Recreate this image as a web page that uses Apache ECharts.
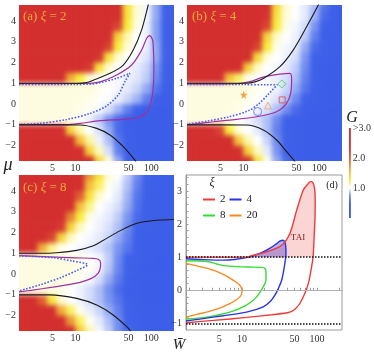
<!DOCTYPE html>
<html>
<head>
<meta charset="utf-8">
<script src="https://cdn.jsdelivr.net/npm/echarts@6/dist/echarts.min.js"></script>
<style>
  html, body { margin: 0; padding: 0; background: #fff; }
  #wrap { position: relative; width: 374px; height: 355px; }
  #heat, #main { position: absolute; left: 0; top: 0; width: 374px; height: 355px; }
  /* the G maps are drawn on their own layer, softened and cut to the three panels */
  #heat { filter: blur(2.5px); clip-path: path('M19 5H174V161H19Z M187 5H342V161H187Z M19 175H174V331H19Z'); }
</style>
</head>
<body>
<div id="wrap"><div id="heat"></div><div id="main"></div></div>
<script>
// ---- G maps: columns in W (log spaced), rows in mu ----
var wCols = [1.54, 2.05, 2.74, 3.65, 4.87, 6.49, 8.66, 11.5, 15.4, 20.5, 27.4, 36.5, 48.7, 64.9, 86.6, 115, 154, 205];
var muRows = [4.75, 4.25, 3.75, 3.25, 2.75, 2.25, 1.75, 1.25, 0.75, 0.25, -0.25, -0.75, -1.25, -1.75, -2.25, -2.75];

var gA = [
  [3,3,3,3,3,3,3,3,3,3,3,2.8,1.3,1.06,0.98,0.8,0.5,0.38],
  [3,3,3,3,3,3,3,3,3,3,3,2.7,1.3,1.05,0.98,0.8,0.5,0.38],
  [3,3,3,3,3,3,3,3,3,3,3,2.2,1.25,1.03,0.97,0.78,0.48,0.37],
  [3,3,3,3,3,3,3,3,3,3,2.7,1.4,1.1,1.0,0.97,0.78,0.48,0.36],
  [3,3,3,3,3,3,3,3,3,3,2.2,1.25,1.05,1.0,0.96,0.8,0.5,0.36],
  [3,3,3,3,3,3,3,3,3,2.4,1.3,1.06,1.0,0.98,0.94,0.8,0.5,0.36],
  [3,3,3,3,3,3,3,3,2.3,1.3,1.06,1.0,0.98,0.95,0.9,0.75,0.47,0.35],
  [3,3,3,3,3,2.6,1.6,1.25,1.06,1.0,1.0,0.98,0.97,0.94,0.88,0.7,0.45,0.35],
  [1.04,1.04,1.04,1.04,1.04,1.04,1.04,1.04,1.04,1.02,1.0,0.98,0.95,0.9,0.8,0.6,0.4,0.32],
  [1.04,1.04,1.04,1.04,1.04,1.04,1.04,1.04,1.03,1.01,0.99,0.96,0.9,0.82,0.65,0.45,0.35,0.3],
  [1.04,1.04,1.04,1.04,1.04,1.04,1.04,1.03,1.01,0.98,0.93,0.82,0.65,0.45,0.35,0.3,0.3,0.3],
  [1.04,1.04,1.04,1.04,1.04,1.04,1.03,1.0,0.96,0.88,0.75,0.55,0.4,0.32,0.3,0.3,0.3,0.3],
  [3,3,3,3,3,2.5,1.4,1.1,1.0,0.93,0.8,0.55,0.4,0.3,0.3,0.3,0.3,0.3],
  [3,3,3,3,3,3,2.7,1.5,1.12,0.97,0.85,0.6,0.42,0.3,0.3,0.3,0.3,0.3],
  [3,3,3,3,3,3,3,2.6,1.4,1.08,0.92,0.65,0.45,0.35,0.3,0.3,0.3,0.3],
  [3,3,3,3,3,3,3,3,2.6,1.35,1.05,0.8,0.5,0.38,0.3,0.3,0.3,0.3]
];
var gB = [
  [3,3,3,3,3,3,3,3,3,2.6,1.35,1.06,1.0,0.95,0.85,0.6,0.4,0.35],
  [3,3,3,3,3,3,3,3,3,2.4,1.3,1.05,1.0,0.95,0.82,0.55,0.4,0.35],
  [3,3,3,3,3,3,3,3,3,2.2,1.25,1.03,0.98,0.92,0.75,0.5,0.38,0.35],
  [3,3,3,3,3,3,3,3,2.7,1.4,1.07,1.0,0.97,0.88,0.65,0.45,0.35,0.33],
  [3,3,3,3,3,3,3,3,2.2,1.25,1.03,0.98,0.95,0.8,0.55,0.4,0.35,0.33],
  [3,3,3,3,3,3,3,2.6,1.35,1.05,1.0,0.97,0.92,0.75,0.5,0.38,0.33,0.32],
  [3,3,3,3,3,3,2.6,1.4,1.07,1.0,0.98,0.95,0.88,0.7,0.45,0.35,0.32,0.3],
  [3,3,3,3,2.6,1.5,1.2,1.03,1.0,0.98,0.96,0.92,0.85,0.65,0.45,0.35,0.32,0.3],
  [1.04,1.04,1.04,1.04,1.04,1.04,1.04,1.04,1.02,1.0,0.97,0.9,0.8,0.6,0.42,0.35,0.32,0.3],
  [1.04,1.04,1.04,1.04,1.04,1.04,1.04,1.03,1.0,0.98,0.93,0.85,0.7,0.5,0.38,0.33,0.3,0.3],
  [1.04,1.04,1.04,1.04,1.04,1.04,1.03,1.0,0.97,0.93,0.85,0.72,0.55,0.4,0.34,0.3,0.3,0.3],
  [1.04,1.04,1.04,1.04,1.04,1.02,1.0,0.97,0.92,0.85,0.7,0.5,0.38,0.33,0.3,0.3,0.3,0.3],
  [3,3,3,3,2.2,1.25,1.05,1.0,0.95,0.85,0.65,0.45,0.35,0.3,0.3,0.3,0.3,0.3],
  [3,3,3,3,3,2.6,1.45,1.1,1.0,0.9,0.7,0.5,0.38,0.3,0.3,0.3,0.3,0.3],
  [3,3,3,3,3,3,2.6,1.4,1.08,0.95,0.75,0.5,0.38,0.3,0.3,0.3,0.3,0.3],
  [3,3,3,3,3,3,3,2.4,1.3,1.03,0.8,0.55,0.4,0.3,0.3,0.3,0.3,0.3]
];
var gC = [
  [3,3,3,3,3,3,3,2.8,1.7,1.3,1.05,1.0,0.88,0.7,0.5,0.4,0.36,0.35],
  [3,3,3,3,3,3,3,2.5,1.5,1.2,1.02,0.97,0.85,0.65,0.45,0.38,0.35,0.35],
  [3,3,3,3,3,3,3,2.0,1.3,1.06,1.0,0.95,0.82,0.6,0.42,0.36,0.35,0.35],
  [3,3,3,3,3,3,2.7,1.5,1.15,1.0,0.97,0.92,0.8,0.58,0.42,0.35,0.35,0.35],
  [3,3,3,3,3,2.9,1.8,1.25,1.03,0.98,0.95,0.88,0.75,0.55,0.4,0.35,0.35,0.35],
  [3,3,3,3,3,2.3,1.4,1.08,1.0,0.97,0.93,0.85,0.7,0.5,0.38,0.35,0.35,0.35],
  [3,3,3,3,2.2,1.4,1.08,1.0,0.98,0.95,0.9,0.8,0.65,0.45,0.36,0.35,0.35,0.35],
  [3,3,2.8,1.6,1.15,1.02,1.0,0.98,0.96,0.92,0.86,0.75,0.6,0.42,0.35,0.33,0.33,0.33],
  [1.04,1.04,1.04,1.04,1.04,1.04,1.04,1.03,1.01,0.98,0.88,0.7,0.5,0.38,0.33,0.3,0.3,0.3],
  [1.04,1.04,1.04,1.04,1.04,1.04,1.04,1.03,1.01,0.97,0.86,0.68,0.48,0.36,0.32,0.3,0.3,0.3],
  [1.04,1.04,1.04,1.04,1.04,1.04,1.03,1.01,0.98,0.92,0.8,0.62,0.45,0.35,0.32,0.3,0.3,0.3],
  [1.04,1.04,1.04,1.04,1.04,1.03,1.0,0.97,0.92,0.85,0.72,0.55,0.42,0.34,0.3,0.3,0.3,0.3],
  [3,3,3,2.0,1.3,1.06,1.0,0.97,0.92,0.85,0.75,0.6,0.45,0.36,0.32,0.32,0.32,0.32],
  [3,3,3,3,2.8,1.6,1.2,1.02,0.96,0.9,0.8,0.65,0.48,0.38,0.33,0.33,0.33,0.33],
  [3,3,3,3,3,2.8,1.7,1.2,1.02,0.95,0.85,0.7,0.5,0.4,0.34,0.34,0.34,0.34],
  [3,3,3,3,3,3,2.5,1.45,1.1,0.98,0.88,0.72,0.52,0.4,0.35,0.35,0.35,0.35]
];

// colour scale, G = 0 .. 3 in steps of 0.25
var gColors = ['#3a5ce8', '#3a5ce8', '#3f61e9', '#7b95f0', '#ffffff', '#f9ee3e', '#f4c23c',
               '#ec8f38', '#e06034', '#d63d31', '#d32f2f', '#d32f2f', '#d32f2f'];

// ---- contour lines [W, mu] ----
var aBlackUp = [[1.8,1.0],[10.4,1.0],[14.1,1.04],[17.2,1.15],[28.6,1.48],[42.8,1.88],[57.9,2.6],[74.8,3.57],[91.4,4.77],[95,5]];
var aBlackLow = [[1.8,-1.0],[11.5,-1.01],[19.1,-1.17],[28.6,-1.49],[42.8,-2.05],[61,-2.7],[63,-2.8]];
var aPurple = [[1.8,0.99],[8,0.99],[13.4,0.99],[21.1,1.07],[35,1.4],[55.2,1.88],[74.8,2.6],[87,3.16],[95,3.3],[103,3.15],[106,2.92],[108.7,1.8],[104.4,0.51],[91.4,-0.29],[71,-0.61],[47.4,-0.72],[21.1,-0.8],[11.5,-0.93],[7.7,-0.99],[1.8,-0.99]];
var aBlueDot = [[1.8,0.95],[10,0.95],[15.6,0.96],[21.1,1.03],[35,1.24],[52.4,1.48],[45,1.08],[36.7,0.44],[25.8,-0.09],[15.6,-0.45],[7.7,-0.74],[3.4,-0.93],[1.8,-0.98]];

var bBlackUp = [[1.8,1.0],[11,1.0],[14.2,1.07],[18.3,1.23],[30.3,1.8],[45.4,2.6],[68.2,3.72],[97,4.76],[100,4.9]];
var bBlackLow = [[1.8,-1.0],[11,-1.01],[18.3,-1.25],[27.4,-1.73],[37.2,-2.29],[46.9,-2.72],[48,-2.8]];
var bPurple = [[1.8,0.98],[3.6,0.97],[8,0.98],[12.2,1.08],[18.3,1.3],[30.3,1.44],[41.1,1.48],[43.3,1.15],[42,0.51],[37.1,0.03],[27.4,-0.37],[15,-0.61],[6.6,-0.77],[4.0,-0.85],[2.2,-0.97],[1.8,-0.99]];
var bBlueDot = [[1.8,0.94],[10,0.94],[20,0.93],[28,0.93],[21.4,0.48],[15.8,0.0],[11.6,-0.32],[6.3,-0.62],[3.3,-0.82],[1.8,-0.97]];
var bStar = [[10.1,0.45]], bDiamond = [[32.2,0.97]], bSquare = [[32.5,0.2]], bTriangle = [[21.1,-0.07]], bCircle = [[15.4,-0.36]];

var cBlackUp = [[1.8,1.0],[3.4,1.0],[5.7,1.03],[10.4,1.14],[17.2,1.36],[25.8,1.72],[38.6,2.08],[55,2.35],[71,2.48],[130,2.6],[200,2.63]];
var cBlackLow = [[1.8,-1.0],[4.6,-1.0],[10.4,-1.17],[19.1,-1.49],[31.5,-1.97],[49.8,-2.6],[53.5,-2.75]];
var cPurple = [[1.8,0.89],[4.6,0.83],[10,0.78],[17,0.76],[20,0.71],[21.5,0.55],[21.4,0.35],[20,0.05],[16,-0.22],[10,-0.45],[5,-0.63],[2.6,-0.78],[1.8,-0.86]];
var cBlueDot = [[1.8,0.88],[5,0.79],[9.1,0.63],[14.5,0.45],[10.8,0.2],[6.5,-0.16],[3.4,-0.52],[2.2,-0.72],[1.8,-0.82]];

// ---- panel (d): boundaries for xi = 2, 4, 8, 20 ----
var dRed = [[1.8,-0.98],[4.2,-0.91],[11.5,-0.82],[25,-0.74],[40,-0.68],[46,-0.64],[52,-0.55],[59,-0.4],[68,-0.12],[76.6,0.2],[83,0.6],[88.5,1.0],[91.5,1.6],[94,2.2],[94.5,2.7],[93,3.05],[88,3.25],[82,3.28],[75,3.2],[65.7,3.03],[53.6,2.42],[43.6,1.72],[33.8,1.36],[21.3,1.16],[12.8,1.03],[11.5,1.0],[7,1.0],[1.8,1.0]];
var dBlue = [[1.8,-0.93],[2.75,-0.87],[5.6,-0.77],[11.5,-0.66],[19.2,-0.5],[24,-0.33],[27.5,-0.15],[30.5,0.05],[33.8,0.3],[36,0.6],[37.8,0.9],[38.3,1.0],[38.6,1.12],[38.2,1.35],[37,1.47],[35,1.51],[32,1.48],[29,1.41],[24,1.28],[19.2,1.16],[15,1.06],[12.5,1.0],[8,0.93],[5.6,0.91],[2.75,0.93],[1.8,0.95]];
var dGreen = [[1.8,0.89],[3.5,0.87],[4.5,0.8],[5.5,0.75],[7.7,0.72],[12,0.7],[18.3,0.69],[20.3,0.66],[20.9,0.55],[20.9,0.3],[19.2,0.1],[15.7,-0.2],[11.5,-0.45],[6.9,-0.66],[3.4,-0.81],[1.8,-0.87]];
var dOrange = [[1.8,0.81],[4.1,0.61],[6,0.45],[7.7,0.3],[9.3,0.16],[10.1,0.0],[9.4,-0.2],[6.9,-0.4],[4.1,-0.61],[2.5,-0.73],[1.8,-0.81]];

// ---- ticks ----
var xLabels = [5, 10, 50, 100];
var muLabels = [-2, -1, 0, 1, 2, 3, 4];
var dMuLabels = [-1, 0, 1, 2, 3];
var dTicksX = [2, 3, 4, 5, 6, 7, 8, 9, 10, 20, 30, 40, 50, 60, 70, 80, 90, 100, 200];
var dTicksY = [-1, -0.8, -0.6, -0.4, -0.2, 0, 0.2, 0.4, 0.6, 0.8, 1, 1.2, 1.4, 1.6, 1.8, 2, 2.2, 2.4, 2.6, 2.8, 3, 3.2, 3.4];
var cbLabels = [1, 2, 3];

var serif = '"Liberation Serif", "DejaVu Serif", serif';
var panelGrids = [
  { left: 19, top: 5, width: 155, height: 156 },
  { left: 187, top: 5, width: 155, height: 156 },
  { left: 19, top: 175, width: 155, height: 156 }
];

// ================= heat layer =================
function cells(g) {
  var out = [];
  g.forEach(function (row, r) {
    row.forEach(function (v, c) { out.push([wCols[c], muRows[r], v, c, r]); });
  });
  return out;
}
function wEdge(c, side) {
  var w = wCols[c], nb = wCols[c + side];
  if (nb === undefined) nb = w * w / wCols[c - side];
  return Math.sqrt(w * nb);
}
function muEdge(r, side) {
  var m = muRows[r], nb = muRows[r + side];
  if (nb === undefined) nb = 2 * m - muRows[r - side];
  return (m + nb) / 2;
}
function renderCell(params, api) {
  var c = api.value(3), r = api.value(4);
  var p0 = api.coord([wEdge(c, -1), muEdge(r, -1)]);
  var p1 = api.coord([wEdge(c, 1), muEdge(r, 1)]);
  return {
    type: 'rect',
    shape: { x: p0[0], y: p0[1], width: p1[0] - p0[0] + 0.6, height: p1[1] - p0[1] + 0.6 },
    style: { fill: api.visual('color') }
  };
}

var heat = echarts.init(document.getElementById('heat'));
heat.setOption({
  animation: false,
  grid: panelGrids,
  xAxis: [0, 1, 2].map(function (i) { return { type: 'log', gridIndex: i, min: 1.8, max: 200, show: false }; }),
  yAxis: [0, 1, 2].map(function (i) { return { type: 'value', gridIndex: i, min: -2.74, max: 4.77, show: false }; }),
  visualMap: { type: 'continuous', show: false, min: 0, max: 3, dimension: 2, seriesIndex: [0, 1, 2], inRange: { color: gColors } },
  series: [gA, gB, gC].map(function (g, i) {
    return { type: 'custom', xAxisIndex: i, yAxisIndex: i, renderItem: renderCell, encode: { x: 0, y: 1 }, data: cells(g), clip: false, silent: true };
  })
});

// ================= lines, axes, texts =================
function minus(v) { return v < 0 ? '\u2212' + (-v) : String(v); }
var labelStyle = { fontFamily: serif, fontSize: 10, color: '#333' };

function heatX(i) {
  return {
    type: 'log', gridIndex: i, min: 1.8, max: 200,
    axisLine: { show: false }, axisTick: { show: false }, splitLine: { show: false },
    axisLabel: Object.assign({ customValues: xLabels, margin: 2, formatter: function (v) { return String(Math.round(v)); } }, labelStyle)
  };
}
function heatY(i) {
  return {
    type: 'value', gridIndex: i, min: -2.74, max: 4.77,
    axisLine: { show: false }, axisTick: { show: false }, splitLine: { show: false },
    axisLabel: Object.assign({ customValues: muLabels, margin: 3, formatter: minus }, labelStyle)
  };
}
function curve(data, i, color, width, type, name) {
  return {
    name: name, type: 'line', xAxisIndex: i, yAxisIndex: i, data: data,
    symbol: 'none', smooth: 0.3, silent: true, clip: true, z: 3,
    lineStyle: { color: color, width: width, type: type || 'solid' },
    itemStyle: { color: color }
  };
}
function marker(data, symbol, size, color, filled) {
  return {
    type: 'scatter', xAxisIndex: 1, yAxisIndex: 1, data: data, symbol: symbol, symbolSize: size, silent: true, z: 5,
    itemStyle: filled ? { color: color } : { color: 'rgba(255,255,255,0)', borderColor: color, borderWidth: 1 }
  };
}

var black = '#1a1a1a', purple = '#a0309c', dotBlue = '#4a5ef0';
var series = [];
[[aPurple, aBlueDot, aBlackUp, aBlackLow], [bPurple, bBlueDot, bBlackUp, bBlackLow], [cPurple, cBlueDot, cBlackUp, cBlackLow]]
  .forEach(function (set, i) {
    series.push(curve(set[0], i, purple, 1.2));
    series.push(curve(set[1], i, dotBlue, 1.6, 'dotted'));
    series.push(curve(set[2], i, black, 1.1));
    series.push(curve(set[3], i, black, 1.1));
  });

series.push(marker(bStar, 'path://M50,0 L61,35 L98,35 L68,57 L79,91 L50,70 L21,91 L32,57 L2,35 L39,35 Z', 8, '#f38a26', true));
series.push(marker(bDiamond, 'diamond', 8, '#4ed24e'));
series.push(marker(bSquare, 'rect', 6, '#e8453c'));
series.push(marker(bTriangle, 'triangle', 7, '#f3a55e'));
series.push(marker(bCircle, 'circle', 8, '#5b6cf0'));

// panel (d): TAI fills above mu = 1
series.push({
  type: 'line', xAxisIndex: 3, yAxisIndex: 3, symbol: 'none', smooth: 0.3, silent: true, z: 1,
  data: dRed.filter(function (p) { return p[0] > 10 && p[1] >= 1; }),
  lineStyle: { width: 0 }, areaStyle: { color: 'rgba(240,110,110,0.42)', origin: 1 }
});
series.push({
  type: 'line', xAxisIndex: 3, yAxisIndex: 3, symbol: 'none', smooth: 0.3, silent: true, z: 1,
  data: dBlue.filter(function (p) { return p[0] > 10 && p[1] >= 1; }),
  lineStyle: { width: 0 }, areaStyle: { color: 'rgba(60,40,200,0.5)', origin: 1 }
});
var dRedSeries = curve(dRed, 3, '#f03a3a', 1.4, 'solid', '2');
dRedSeries.markLine = {
  silent: true, symbol: 'none', label: { show: false },
  lineStyle: { type: 'dotted', color: '#111', width: 1.5 },
  data: [{ yAxis: 1 }, { yAxis: -1 }, { yAxis: 0, lineStyle: { type: 'solid', color: '#b0b0b0', width: 1 } }]
};
series.push(curve(dOrange, 3, '#f58a22', 1.4, 'solid', '20'));
series.push(curve(dGreen, 3, '#35dc35', 1.4, 'solid', '8'));
series.push(curve(dBlue, 3, '#2b33e6', 1.4, 'solid', '4'));
series.push(dRedSeries);

// colour bar
series.push({
  type: 'bar', xAxisIndex: 4, yAxisIndex: 4, data: [3], barWidth: '100%', silent: true,
  itemStyle: { color: new echarts.graphic.LinearGradient(0, 1, 0, 0, gColors.map(function (c, i) { return { offset: i / (gColors.length - 1), color: c }; })) }
});

function panelLabel(x, y, tag, xi) {
  return {
    type: 'text', x: x, y: y, z: 10,
    style: {
      text: '(' + tag + ') {i|\u03be} = ' + xi, fill: '#f2a93b', font: '13px ' + serif, verticalAlign: 'middle',
      rich: { i: { fontStyle: 'italic', fontFamily: serif, fontSize: 13, fill: '#f2a93b' } }
    }
  };
}
function italic(x, y, t, size) {
  return { type: 'text', x: x, y: y, z: 10, style: { text: t, fill: '#222', font: 'italic ' + size + 'px ' + serif, align: 'center', verticalAlign: 'middle' } };
}

var legendBase = {
  left: 198, itemWidth: 12, itemHeight: 2, itemGap: 4, icon: 'roundRect', selectedMode: false,
  textStyle: { fontFamily: serif, fontSize: 11, color: '#222' }
};

var main = echarts.init(document.getElementById('main'));
main.setOption({
  animation: false,
  grid: panelGrids.concat([
    { left: 186, top: 175, width: 156, height: 155, show: true, borderColor: '#9a9a9a', borderWidth: 1 },
    { left: 349, top: 128, width: 7, height: 90 }
  ]),
  xAxis: [heatX(0), heatX(1), heatX(2), {
    type: 'log', gridIndex: 3, min: 1.8, max: 215, splitLine: { show: false },
    axisLine: { lineStyle: { color: '#9a9a9a' } },
    axisTick: { inside: true, length: 2.5, customValues: dTicksX, lineStyle: { color: '#9a9a9a' } },
    axisLabel: Object.assign({ customValues: xLabels, margin: 4, formatter: function (v) { return String(Math.round(v)); } }, labelStyle)
  }, { type: 'category', gridIndex: 4, data: ['G'], show: false }],
  yAxis: [heatY(0), heatY(1), heatY(2), {
    type: 'value', gridIndex: 3, min: -1.2, max: 3.48, splitLine: { show: false },
    axisLine: { show: true, lineStyle: { color: '#9a9a9a' } },
    axisTick: { show: true, inside: true, length: 2.5, customValues: dTicksY, lineStyle: { color: '#9a9a9a' } },
    axisLabel: Object.assign({ customValues: dMuLabels, margin: 4, formatter: minus }, labelStyle)
  }, {
    type: 'value', gridIndex: 4, min: 0, max: 3, position: 'right',
    axisLine: { show: false }, axisTick: { show: false }, splitLine: { show: false },
    axisLabel: Object.assign({ customValues: cbLabels, margin: 2, formatter: function (v) { return v === 3 ? '>3.0' : v.toFixed(1); } }, labelStyle)
  }],
  legend: [
    Object.assign({ top: 189, data: ['2', '4'] }, legendBase),
    Object.assign({ top: 205, data: ['8', '20'] }, legendBase)
  ],
  graphic: [
    panelLabel(23, 17, 'a', 2),
    panelLabel(192, 17, 'b', 4),
    panelLabel(23, 188, 'c', 8),
    italic(8, 165, '\u03bc', 18),
    italic(179, 345, 'W\u0304', 15),
    italic(352, 118, 'G', 16),
    italic(212, 183, '\u03be', 12),
    { type: 'text', x: 332, y: 185, z: 10, style: { text: '(d)', fill: '#222', font: '10px ' + serif, align: 'center', verticalAlign: 'middle' } },
    { type: 'text', x: 298, y: 238, z: 10, style: { text: 'TAI', fill: '#7a1b1b', font: '9px ' + serif, align: 'center', verticalAlign: 'middle' } }
  ],
  series: series
});
</script>
</body>
</html>
